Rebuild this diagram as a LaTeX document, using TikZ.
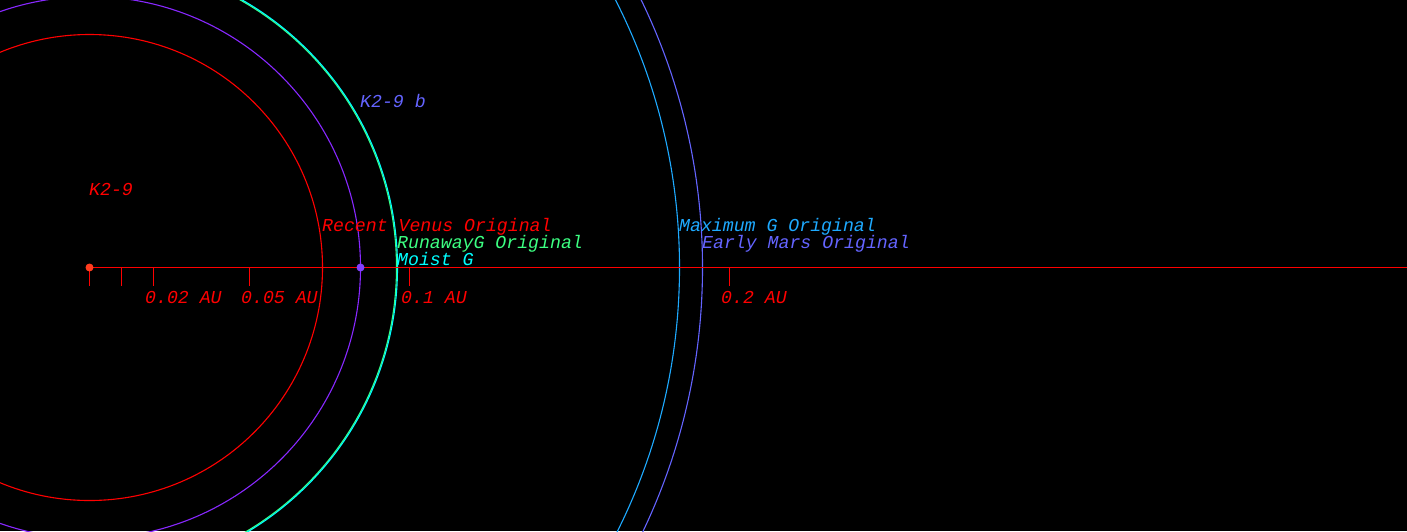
\documentclass[tikz,border=0pt]{standalone}
\usepackage{fontspec}
\setmonofont{Liberation Mono}
\usetikzlibrary{positioning}
\definecolor{orbred}{RGB}{255,0,0}
\definecolor{orbpurple}{RGB}{136,40,255}
\definecolor{orbgreen}{RGB}{60,255,130}
\definecolor{orbcyan}{RGB}{0,255,255}
\definecolor{orbsky}{RGB}{30,170,255}
\definecolor{orbblue}{RGB}{100,100,255}
\definecolor{stardot}{RGB}{255,60,30}
\definecolor{planetdot}{RGB}{128,64,255}

\begin{document}
\begin{tikzpicture}[x=1pt,y=-1pt,
  orb/.style={line width=1.1pt},
  dot/.style={circle,inner sep=0pt,minimum size=8pt},
  lbl/.style={anchor=base west,inner sep=0pt,font=\fontsize{18.2}{18.2}\selectfont\ttfamily\itshape},
  tickmark/.style={orbred,line width=1.4pt}]
\fill[black] (0,0) rectangle (1407,531);
\useasboundingbox (0,0) rectangle (1407,531);
\clip (0,0) rectangle (1407,531);
\coordinate (c) at (89.5,267.5);
% habitable zone limits
\draw[orb,orbred] (c) circle[radius=233pt];
\draw[orb,orbpurple] (c) circle[radius=271pt];
\draw[orb,orbgreen] (c) circle[radius=307pt];
\draw[orb,orbcyan] (c) circle[radius=308pt];
\draw[orb,orbsky] (c) circle[radius=590pt];
\draw[orb,orbblue] (c) circle[radius=613pt];
% axis
\coordinate (axend) at (1407,267.5);
\draw[tickmark] (c) -- (axend);
\foreach \t in {89,121,153,249,409,729}
  \draw[tickmark] (\t+.5,267.5) -- ++(0,18);
\foreach \t/\l in {153/0.02,249/0.05,409/0.1,729/0.2}
  \node[lbl,orbred] at (\t-8,303) {\l{} AU};
\node[dot,fill=stardot] (star) at (c) {};
\node[dot,fill=planetdot] (planet) at (360.5,267.5) {};
% labels
\node[lbl,orbred] (starname) at (89,195) {K2-9};
\node[lbl,orbblue] (planetname) at (360,107) {K2-9 b};
\node[lbl,orbred] (venus) at (322,231) {Recent Venus Original};
\node[lbl,orbgreen] (runaway) at (397,248) {RunawayG Original};
\node[lbl,orbcyan] (moist) at (397,265) {Moist G};
\node[lbl,orbsky] (maxg) at (679,231) {Maximum G Original};
\node[lbl,orbblue] (mars) at (702,248) {Early Mars Original};
\end{tikzpicture}
\end{document}
